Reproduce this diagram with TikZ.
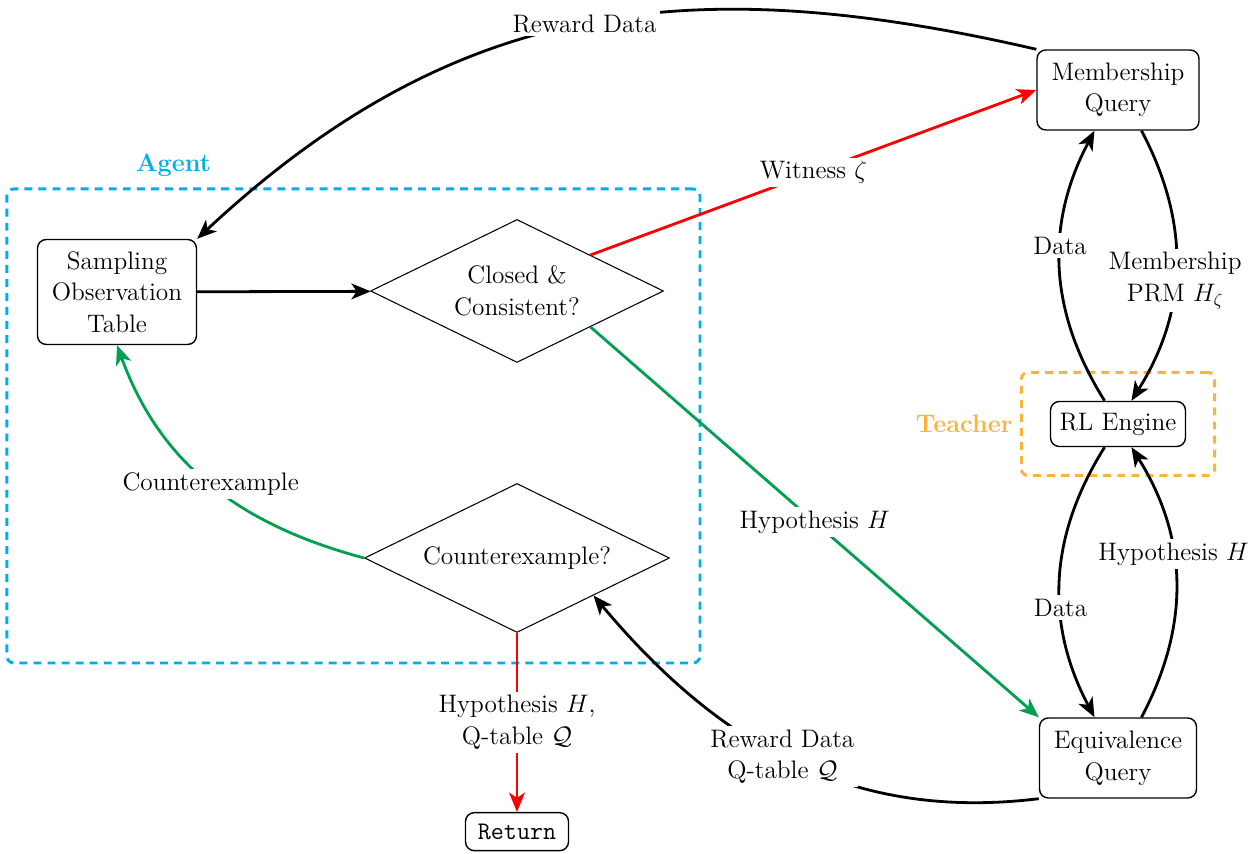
\documentclass[tikz,border=0pt,12pt]{standalone}
\usetikzlibrary{shapes.geometric, arrows.meta, positioning, fit, backgrounds}

\definecolor{agentblue}{RGB}{0,174,239}
\definecolor{teacherorange}{RGB}{250,180,60}
\definecolor{hypgreen}{RGB}{0,160,80}

\begin{document}
\begin{tikzpicture}[
        x=0.02cm, y=0.02cm,
        font=\large,
        % Caja de proceso
        procbox/.style={
                rectangle,
                rounded corners=5pt,
                draw,
                thick,
                align=center
            },
        % Rombo de decision
        decision/.style={
                diamond,
                draw,
                semithick,
                aspect=2,
                inner sep=1pt,
                align=center
            },
        % Flechas y etiquetas
        flow/.style={
                line width=1.6pt,
                -{Stealth[length=11pt, width=9pt, inset=3pt]}
            },
        edgelabel/.style={
                fill=white,
                text=black,
                inner sep=2pt,
                align=center
            },
        % Grupo contenedor
        groupbox/.style={
                rectangle,
                rounded corners=4pt,
                line width=1.7pt,
                dash pattern=on 4.5pt off 3.5pt
            }
    ]
    \useasboundingbox (0,0) rectangle (1258,854);

    % AGENTE
    \node[procbox, minimum width=3.18cm, minimum height=2.1cm] (sampling) at (117,562) {Sampling\\Observation\\Table};
    \node[decision, minimum width=5.86cm, minimum height=2.86cm] (closed) at (517,563) {Closed \&\\Consistent?};
    \node[decision, minimum width=6.1cm, minimum height=2.98cm] (cex) at (517,296) {Counterexample?};
    \node[procbox, below=3.58cm of cex, minimum width=2.06cm, minimum height=0.76cm] (ret) {\texttt{Return}};

    % MAESTRO
    \node[procbox, minimum width=3.24cm, minimum height=1.6cm] (memq) at (1118,764) {Membership\\Query};
    \node[procbox, minimum width=2.7cm, minimum height=0.9cm] (rl) at (1118,430) {RL Engine};
    \node[procbox, minimum width=3.14cm, minimum height=1.6cm] (eqq) at (1118,96) {Equivalence\\Query};

    % Grupos
    \begin{scope}[on background layer]
        \node[groupbox, draw=agentblue, fit=(sampling)(closed)(cex), inner sep=0.6cm,
            label={[font=\large\bfseries, text=agentblue, xshift=-3.6cm, yshift=0.08cm]above:Agent}] (agent) {};
        \node[groupbox, draw=teacherorange, fit=(rl), inner sep=0.57cm,
            label={[font=\large\bfseries, text=teacherorange]left:Teacher}] (teacher) {};
    \end{scope}

    % Flujo del agente
    \draw[flow] (sampling) -- (closed);
    \draw[flow, red] (closed.north east) -- node[edgelabel] {Witness $\zeta$} (memq.west);
    \draw[flow, hypgreen] (closed.south east) -- node[edgelabel] {Hypothesis $H$} (eqq.north west);
    \draw[flow, hypgreen] (cex.west) to[out=165, in=-70] node[edgelabel] {Counterexample} (sampling.south);
    \draw[flow, red] (cex.south) -- node[edgelabel] {Hypothesis $H$,\\Q-table $\mathcal{Q}$} (ret.north);
    \draw[flow] (memq.north west) to[out=167, in=43, looseness=1.05] node[edgelabel] {Reward Data} (sampling.north east);
    \draw[flow] (eqq.south west) to[out=187, in=-50] node[edgelabel, pos=0.52] {Reward Data\\Q-table $\mathcal{Q}$} (cex.south east);

    % Flujo del maestro
    \draw[flow] (rl) to[bend left=30] node[edgelabel, pos=0.58] {Data} (memq);
    \draw[flow] (memq) to[bend left=30] node[edgelabel, pos=0.55] {Membership\\PRM $H_\zeta$} (rl);
    \draw[flow] (rl) to[bend right=30] node[edgelabel, pos=0.6] {Data} (eqq);
    \draw[flow] (eqq) to[bend right=30] node[edgelabel, pos=0.6] {Hypothesis $H$} (rl);

\end{tikzpicture}
\end{document}
